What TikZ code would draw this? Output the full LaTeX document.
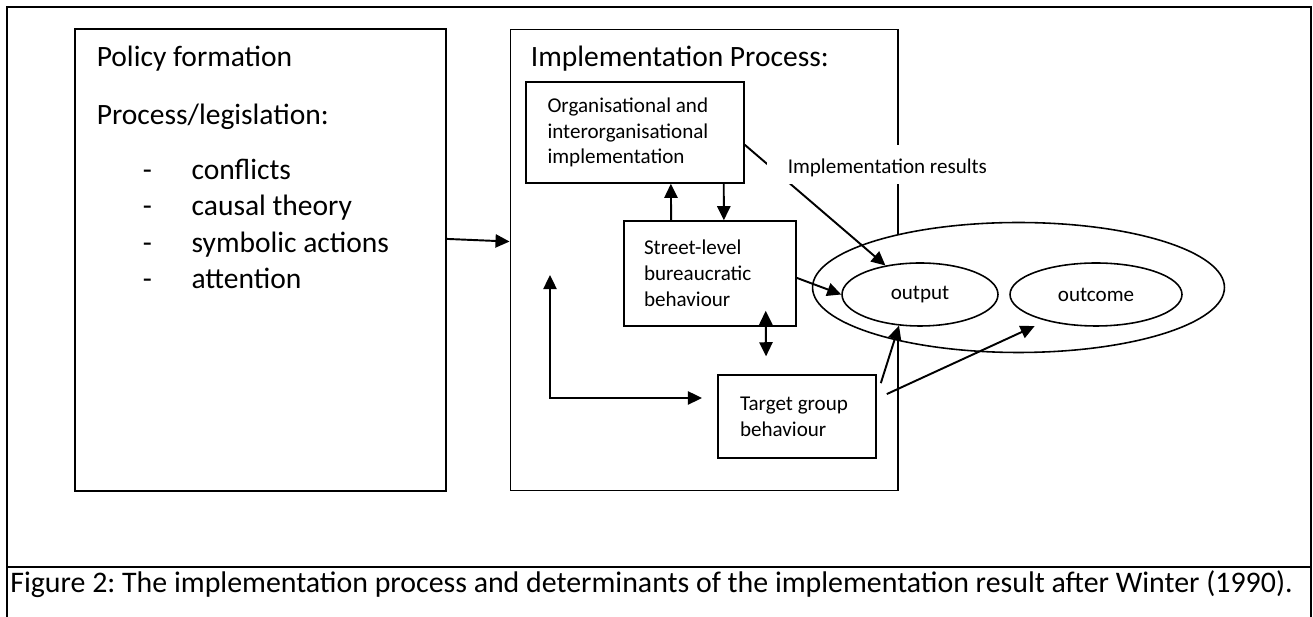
\documentclass[tikz,border=0pt]{standalone}
\usepackage{fontspec}
\setmainfont{Carlito}
\usetikzlibrary{arrows.meta}
\usetikzlibrary{positioning}
\usetikzlibrary{shapes.geometric}

\newcommand{\bigtext}{\fontsize{16.8}{20}\selectfont}
\newcommand{\smalltext}{\fontsize{12}{14.7}\selectfont}
\frenchspacing

\begin{document}
\begin{tikzpicture}
    [x=0.02cm, y=-0.02cm,
     frame/.style={line width=1.2pt},
     bigbox/.style={rectangle, draw, line width=0.7pt, inner sep=0pt},
     smallbox/.style={rectangle, draw, line width=0.9pt, align=flush left, font=\smalltext},
     result/.style={ellipse, draw, line width=0.9pt, inner sep=0pt, font=\smalltext},
     txt/.style={anchor=base west, inner sep=0pt, font=\bigtext},
     arr/.style={-{Triangle[length=8pt, width=7.5pt]}, line width=1.1pt},
     darr/.style={{Triangle[length=8pt, width=7.5pt]}-{Triangle[length=8pt, width=7.5pt]}, line width=1.1pt}]

    \useasboundingbox (0,0) rectangle (1313,617);

    % cell round the figure, caption below the rule
    \draw [frame] (7,617) -- (7,7) -- (1311,7) -- (1311,617);
    \draw [frame] (7,567) -- (1311,567);
    \node [txt, font=\fontsize{17}{20}\selectfont] (cap) at (10,593) {Figure 2: The implementation process and determinants of the implementation result after Winter (1990).};

    \node [bigbox, minimum width=7.42cm, minimum height=9.24cm] (policy) at (260.5,260) {};
    \node [bigbox, minimum width=7.76cm, minimum height=9.22cm, right=1.26cm of policy] (impl) {};

    \node [txt] at ([shift={(22,38)}]policy.north west) {Policy formation};
    \node [txt] at ([shift={(22,96)}]policy.north west) {Process/legislation:};
    \node [txt] at ([shift={(68,151)}]policy.north west) {\makebox[27.8pt][l]{-}conflicts};
    \node [txt] at ([shift={(68,187)}]policy.north west) {\makebox[27.8pt][l]{-}causal theory};
    \node [txt] at ([shift={(68,224)}]policy.north west) {\makebox[27.8pt][l]{-}symbolic actions};
    \node [txt] at ([shift={(68,260)}]policy.north west) {\makebox[27.8pt][l]{-}attention};

    \node [txt] at ([shift={(21,38)}]impl.north west) {Implementation Process:};

    \node [smallbox, minimum width=4.36cm, minimum height=2.02cm, text width=3.5cm] (org) at (635,132.5) {
	Organisational and\\ interorganisational\\ implementation
    };
    \node [smallbox, minimum width=3.44cm, minimum height=2.1cm, text width=2.64cm] (street) at (710,273.5) {
	Street-level\\ bureaucratic\\ behaviour
    };
    \node [smallbox, minimum width=3.16cm, minimum height=1.66cm, text width=2.28cm] (target) at (797,416.5) {
	Target group\\ behaviour
    };

    % the results ring hides the right edge of impl
    \node [result, fill=white, minimum width=8.24cm, minimum height=2.6cm] (results) at (1018.5,287.5) {};
    \node [result, minimum width=3.12cm, minimum height=1.26cm] (output) at (920,294.5) {output};
    \node [result, minimum width=3.44cm, minimum height=1.26cm] (outcome) at (1096,294.5) {outcome};

    \draw [arr] ([yshift=12pt]policy.east) -- ([yshift=10.5pt]impl.west);
    \draw [arr] ([xshift=-22.1pt]street.north) -- ([xshift=20.4pt]org.south);
    \draw [arr] ([xshift=50.5pt]org.south) -- ([xshift=7.9pt]street.north);
    \draw [darr] ([shift={(31.7pt,9.1pt)}]street.south) -- ([shift={(-17.6pt,10.2pt)}]target.north);

    \coordinate (back) at (550,275);
    \coordinate (toward) at (702,398);
    \draw [darr] (back) |- (toward);

    \draw [arr] ([yshift=-7pt]org.east) -- (output.140);
    \draw [arr] ([yshift=-2.5pt]street.east) -- (output.west);
    \draw [arr] ([shift={(2.3pt,-5.1pt)}]target.north east) -- (output.236);
    \draw [arr] ([shift={(5.7pt,-11.3pt)}]target.north east) -- ([yshift=-5pt]outcome.south west);

    % label sits on top of the org -> output arrow
    \node [fill=white, inner sep=0.06cm, text width=4.34cm, align=flush right, text height=14.7pt, text depth=4pt, font=\smalltext] (label) at (878.5,164.5) {Implementation results};
\end{tikzpicture}
\end{document}
